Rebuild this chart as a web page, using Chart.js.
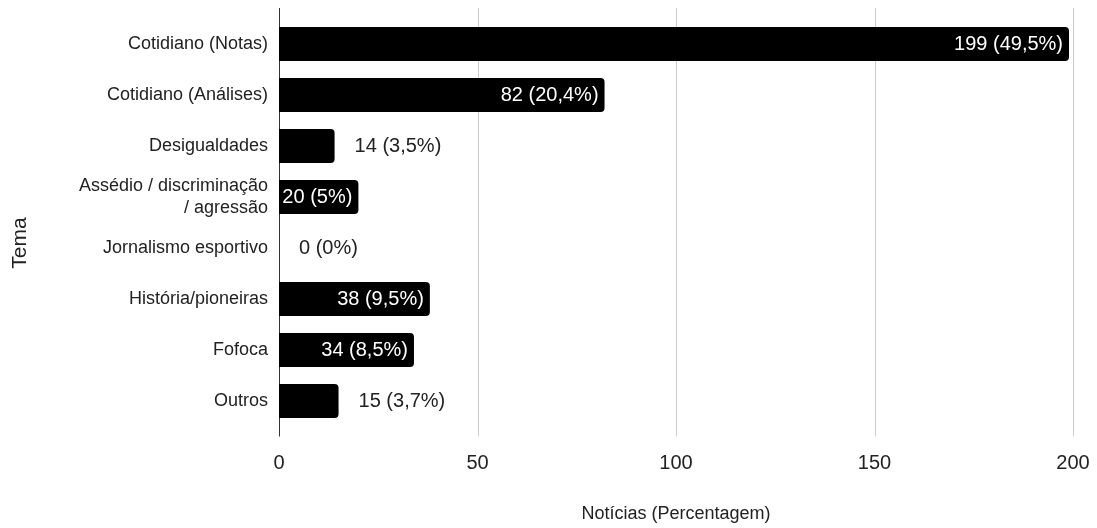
<!DOCTYPE html>
<html>
<head>
<meta charset="utf-8">
<script src="https://cdn.jsdelivr.net/npm/chart.js@4.4.0/dist/chart.umd.min.js"></script>
<style>
  html, body { margin: 0; padding: 0; background: #fff; }
  canvas { display: block; }
</style>
</head>
<body>
<canvas id="js-chart-temas" width="1097" height="528"></canvas>
<script>
// dados
const temas = [
  "Cotidiano (Notas)",
  "Cotidiano (Análises)",
  "Desigualdades",
  ["Assédio / discriminação", "/ agressão"],
  "Jornalismo esportivo",
  "História/pioneiras",
  "Fofoca",
  "Outros"
];
const noticias = [199, 82, 14, 20, 0, 38, 34, 15];
const percentagens = [49.5, 20.4, 3.5, 5, 0, 9.5, 8.5, 3.7];
const escalaX = [0, 50, 100, 150, 200];

const FONTE = "'Liberation Sans', Arial, sans-serif";

const pct = p => String(p).replace(".", ",") + "%";

// linhas de grade verticais (um pouco além da área do gráfico, como no original)
const gradePlugin = {
  id: "grade",
  beforeDatasetsDraw(chart) {
    const { ctx, chartArea: a } = chart;
    const x = chart.scales.x;
    ctx.save();
    ctx.lineWidth = 1;
    x.ticks.forEach(t => {
      const px = Math.round(x.getPixelForValue(t.value)) + 0.5;
      ctx.strokeStyle = t.value === 0 ? "#333" : "#ccc";
      ctx.beginPath();
      ctx.moveTo(px, a.top - 10.5);
      ctx.lineTo(px, a.bottom + 10);
      ctx.stroke();
    });
    ctx.restore();
  }
};

// rótulos de valor nas barras
const rotulosPlugin = {
  id: "rotulos",
  afterDatasetsDraw(chart) {
    const { ctx } = chart;
    const meta = chart.getDatasetMeta(0);
    ctx.save();
    ctx.font = "20px " + FONTE;
    ctx.textBaseline = "middle";
    meta.data.forEach((bar, i) => {
      const txt = noticias[i] + " (" + pct(percentagens[i]) + ")";
      const w = ctx.measureText(txt).width;
      const larg = bar.x - bar.base;
      if (w + 6 <= larg) {
        ctx.fillStyle = "#fff";
        ctx.textAlign = "right";
        ctx.fillText(txt, bar.x - 6, bar.y);
      } else {
        ctx.fillStyle = "#222";
        ctx.textAlign = "left";
        ctx.fillText(txt, bar.x + 20, bar.y);
      }
    });
    // título do eixo vertical
    ctx.translate(20, 243);
    ctx.rotate(-Math.PI / 2);
    ctx.font = "21px " + FONTE;
    ctx.fillStyle = "#222";
    ctx.textAlign = "center";
    ctx.fillText("Tema", 0, 0);
    ctx.restore();
  }
};

new Chart(document.getElementById("js-chart-temas"), {
  type: "bar",
  data: {
    labels: temas,
    datasets: [{
      label: "Notícias",
      data: noticias,
      backgroundColor: "#000",
      borderRadius: 4,
      categoryPercentage: 1,
      barPercentage: 0.667
    }]
  },
  options: {
    indexAxis: "y",
    responsive: false,
    animation: false,
    layout: { padding: { top: 18.5, right: 24, bottom: 0, left: 0 } },
    plugins: { legend: { display: false }, tooltip: { enabled: false } },
    scales: {
      x: {
        min: escalaX[0],
        max: escalaX[escalaX.length - 1],
        grid: { display: false },
        border: { display: false },
        ticks: { stepSize: 50, padding: 17, color: "#222", font: { family: FONTE, size: 20 } },
        title: {
          display: true,
          text: "Notícias (Percentagem)",
          color: "#222",
          font: { family: FONTE, size: 18 },
          padding: { top: 0, bottom: 3 }
        },
        afterFit: s => { s.height = 101.5; s.paddingLeft = 0; s.paddingRight = 0; }
      },
      y: {
        grid: { display: false },
        border: { display: false },
        ticks: { padding: 3, color: "#222", font: { family: FONTE, size: 18 } },
        afterFit: s => { s.width = 279; }
      }
    }
  },
  plugins: [gradePlugin, rotulosPlugin]
});
</script>
</body>
</html>
